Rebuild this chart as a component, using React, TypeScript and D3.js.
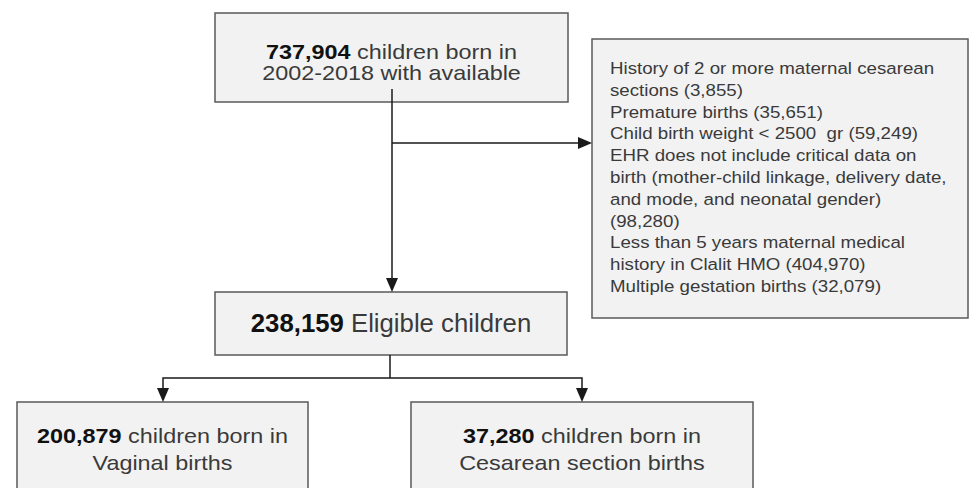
import React from "react";
import * as d3 from "d3";

// flow stages: count + text lines (count is bold, placed before first line)
const stageCounts = [737904, 238159, 200879, 37280];
const stageLines = [
  ["children born in", "2002-2018 with available"],
  ["Eligible children"],
  ["children born in", "Vaginal births"],
  ["children born in", "Cesarean section births"],
];

// exclusion criteria: wrapped lines, count goes after the last line
const exclusionLines = [
  ["History of 2 or more maternal cesarean", "sections"],
  ["Premature births"],
  ["Child birth weight < 2500  gr"],
  [
    "EHR does not include critical data on",
    "birth (mother-child linkage, delivery date,",
    "and mode, and neonatal gender)",
    "",
  ],
  ["Less than 5 years maternal medical", "history in Clalit HMO"],
  ["Multiple gestation births"],
];
const exclusionCounts = [3855, 35651, 59249, 98280, 404970, 32079];

const W = 972;
const H = 488;
const fmt = d3.format(",");

const FONT = "'Liberation Sans', Arial, Helvetica, sans-serif";
const BOX_FILL = "#f2f2f2";
const BOX_STROKE = "#5a5a5a";
const LINE = "#1a1a1a";
const TEXT = "#3a3a3a";

// box layout
const boxes = [
  { x: 215, y: 13, w: 353, h: 89, fs: 20, sx: 1.17, base: 59, lh: 21 },
  { x: 215, y: 292, w: 352, h: 63, fs: 25, sx: 1.03, base: 332, lh: 0 },
  { x: 17, y: 402, w: 291, h: 110, fs: 20, sx: 1.17, base: 443, lh: 27 },
  { x: 411, y: 402, w: 342, h: 110, fs: 20, sx: 1.17, base: 443, lh: 27 },
];
const exBox = { x: 592, y: 39, w: 376, h: 279 };

const Arrow = ({ x, y, dir }: { x: number; y: number; dir: "down" | "right" }) => {
  const p = d3.path();
  if (dir === "down") {
    p.moveTo(x - 6, y - 14);
    p.lineTo(x + 6, y - 14);
    p.lineTo(x, y);
  } else {
    p.moveTo(x - 14, y - 6);
    p.lineTo(x - 14, y + 6);
    p.lineTo(x, y);
  }
  p.closePath();
  return <path d={p.toString()} fill={LINE} />;
};

const Seg = ({ pts }: { pts: [number, number][] }) => (
  <path d={d3.line()(pts) ?? ""} fill="none" stroke={LINE} strokeWidth={1.5} />
);

export default function App() {
  // flatten exclusion text into rows
  const exRows: string[] = [];
  exclusionLines.forEach((lines, i) => {
    lines.forEach((l, j) => {
      if (j === lines.length - 1) {
        const c = `(${fmt(exclusionCounts[i])})`;
        exRows.push(l ? `${l} ${c}` : c);
      } else exRows.push(l);
    });
  });

  const mid = boxes[1];
  const bl = boxes[2];
  const br = boxes[3];
  const cx = 392;
  const branchY = 143;
  const splitY = 378;
  const blx = 163;
  const brx = 582;

  return (
    <div style={{ position: "fixed", left: 0, top: 0, background: "#fff" }}>
      <svg width={W} height={H} style={{ display: "block", fontFamily: FONT }}>
        <rect width={W} height={H} fill="#fff" />

        {boxes.map((b, i) => (
          <g key={i}>
            <rect x={b.x} y={b.y} width={b.w} height={b.h} fill={BOX_FILL} stroke={BOX_STROKE} strokeWidth={1.5} />
            {stageLines[i].map((line, j) => (
              <text
                key={j}
                transform={`translate(${b.x + b.w / 2},${b.base + j * b.lh}) scale(${b.sx},1)`}
                textAnchor="middle"
                fontSize={b.fs}
                fill={TEXT}
              >
                {j === 0 ? (
                  <>
                    <tspan fontWeight="bold" fill="#111">{fmt(stageCounts[i])}</tspan>
                    {" " + line}
                  </>
                ) : (
                  line
                )}
              </text>
            ))}
          </g>
        ))}

        <rect x={exBox.x} y={exBox.y} width={exBox.w} height={exBox.h} fill={BOX_FILL} stroke={BOX_STROKE} strokeWidth={1.5} />
        {exRows.map((r, i) => (
          <text
            key={i}
            transform={`translate(610,${74 + i * 21.8}) scale(1.1,1)`}
            fontSize={17}
            fill={TEXT}
            style={{ whiteSpace: "pre" }}
          >
            {r}
          </text>
        ))}

        {/* connectors */}
        <Seg pts={[[cx, 89], [cx, mid.y - 12]]} />
        <Arrow x={cx} y={mid.y} dir="down" />
        <Seg pts={[[cx, branchY], [exBox.x - 12, branchY]]} />
        <Arrow x={exBox.x} y={branchY} dir="right" />

        <Seg pts={[[390, mid.y + mid.h], [390, splitY]]} />
        <Seg pts={[[blx, bl.y - 12], [blx, splitY], [brx, splitY], [brx, br.y - 12]]} />
        <Arrow x={blx} y={bl.y} dir="down" />
        <Arrow x={brx} y={br.y} dir="down" />
      </svg>
    </div>
  );
}
